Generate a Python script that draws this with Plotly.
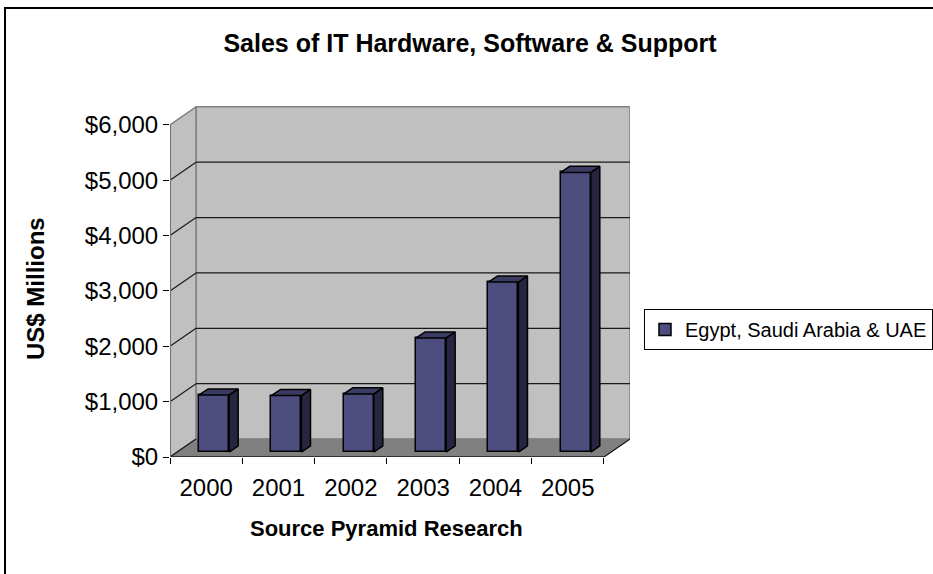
import plotly.graph_objects as go

# ---------------- data ----------------
YEARS = ["2000", "2001", "2002", "2003", "2004", "2005"]
SALES = [1030, 1020, 1050, 2060, 3070, 5050]          # US$ millions
SERIES_NAME = "Egypt, Saudi Arabia & UAE"
YTICK_VALUES = [0, 1000, 2000, 3000, 4000, 5000, 6000]
YTICK_LABELS = ["$0", "$1,000", "$2,000", "$3,000", "$4,000", "$5,000", "$6,000"]
TITLE = "Sales of IT Hardware, Software & Support"
Y_TITLE = "US$ Millions"
X_TITLE = "Source Pyramid Research"

# ---------------- pseudo-3D geometry (in axis units) ----------------
N = len(YEARS)
YMAX = YTICK_VALUES[-1]
DX, DY = 0.36, 325          # wall depth offset
BDX, BDY = 0.11, 90         # bar front-face offset from front plane
BW = 0.415                  # bar width
BDEPTH_X, BDEPTH_Y = 0.125, 110  # bar depth

FONT = "Arial, Liberation Sans, sans-serif"
WALL = "#C0C0C0"
FLOOR = "#808080"
EDGE = "#808080"
GRID = "#1a1a1a"
FRONT = "#4D4D80"
SIDE = "#262640"
TOP = "#3A3A62"

L, R, T, B = 170, 303, 106, 117
W, H = 933, 574
PW, PH = W - L - R, H - T - B

shapes = []
def poly(pts, fill, line, width=1, layer="below"):
    path = "M " + " L ".join(f"{x},{y}" for x, y in pts) + " Z"
    shapes.append(dict(type="path", path=path, xref="x", yref="y",
                       fillcolor=fill, line=dict(color=line, width=width), layer=layer))
def seg(x0, y0, x1, y1, color, width=1):
    shapes.append(dict(type="line", x0=x0, y0=y0, x1=x1, y1=y1, xref="x", yref="y",
                       line=dict(color=color, width=width), layer="below"))

# back wall
poly([(DX, DY), (N + DX, DY), (N + DX, YMAX + DY), (DX, YMAX + DY)], WALL, EDGE, 1.5)
# left side wall
poly([(0, 0), (DX, DY), (DX, YMAX + DY), (0, YMAX)], WALL, EDGE, 1.5)
# floor
poly([(0, 0), (N, 0), (N + DX, DY), (DX, DY)], FLOOR, FLOOR, 1)
# gridlines on back wall + side wall
for v in YTICK_VALUES[1:-1]:
    seg(DX, v + DY, N + DX, v + DY, GRID, 1.2)
    seg(0, v, DX, v + DY, GRID, 1.2)
# floor edges
seg(0, 0, DX, DY, GRID, 1.2)
seg(N, 0, N + DX, DY, GRID, 1.2)
seg(0, 0, N, 0, GRID, 1.5)
# front vertical axis line
seg(0, 0, 0, YMAX, "#707070", 2)

# ---------------- bar faces ----------------
centers = [i + 0.5 + BDX for i in range(N)]
side_x, side_y, top_x, top_y = [], [], [], []
for c, v in zip(centers, SALES):
    xr = c + BW / 2
    xl = c - BW / 2
    side_x += [xr, xr + BDEPTH_X, xr + BDEPTH_X, xr, xr, None]
    side_y += [BDY, BDY + BDEPTH_Y, BDY + v + BDEPTH_Y, BDY + v, BDY, None]
    top_x += [xl, xr, xr + BDEPTH_X, xl + BDEPTH_X, xl, None]
    top_y += [BDY + v, BDY + v, BDY + v + BDEPTH_Y, BDY + v + BDEPTH_Y, BDY + v, None]

fig = go.Figure()
fig.add_trace(go.Scatter(x=side_x, y=side_y, mode="lines", fill="toself", fillcolor=SIDE,
                         line=dict(color="black", width=1.5), showlegend=False, hoverinfo="skip"))
fig.add_trace(go.Scatter(x=top_x, y=top_y, mode="lines", fill="toself", fillcolor=TOP,
                         line=dict(color="black", width=1.5), showlegend=False, hoverinfo="skip"))
fig.add_trace(go.Bar(x=centers, y=SALES, base=BDY, width=BW, name=SERIES_NAME,
                     marker=dict(color=FRONT, line=dict(color="black", width=1.5)),
                     customdata=YEARS, hovertemplate="%{customdata}: $%{y:,}M<extra></extra>"))
# invisible trace for the secondary x axis (tick marks at category boundaries)
fig.add_trace(go.Scatter(x=[0, N], y=[0, 0], xaxis="x2", mode="markers",
                         marker=dict(opacity=0), showlegend=False, hoverinfo="skip"))

xr_range = [0, N + DX]
fig.update_layout(
    width=W, height=H,
    margin=dict(l=L, r=R, t=T, b=B, pad=0, autoexpand=False),
    paper_bgcolor="white", plot_bgcolor="white",
    font=dict(family=FONT, color="black"),
    bargap=0,
    title=dict(text=f"<b>{TITLE}</b>", font=dict(size=25, family=FONT),
               x=(470 - L) / PW, xref="paper", xanchor="center",
               y=1 - 43 / H, yref="container", yanchor="middle"),
    xaxis=dict(range=xr_range, tickvals=[i + 0.5 for i in range(N)], ticktext=YEARS,
               ticks="", showgrid=False, zeroline=False, showline=False,
               ticklabelstandoff=14,
               tickfont=dict(size=24), fixedrange=True),
    xaxis2=dict(range=xr_range, overlaying="x", side="bottom", anchor="y",
                tickvals=list(range(N + 1)), ticktext=[""] * (N + 1),
                ticks="outside", ticklen=6, tickcolor="black", tickwidth=1.2,
                showgrid=False, zeroline=False, showline=False, fixedrange=True),
    yaxis=dict(range=[0, YMAX + DY + 15], tickvals=YTICK_VALUES, ticktext=YTICK_LABELS,
               ticks="outside", ticklen=6, tickcolor="black", tickwidth=1.2,
               showgrid=False, zeroline=False, showline=False,
               tickfont=dict(size=24), fixedrange=True),
    showlegend=True,
    legend=dict(x=(644 - L) / PW, y=(457 - 309) / PH,
                xanchor="left", yanchor="top", bordercolor="black", borderwidth=1,
                font=dict(size=20), bgcolor="white", itemwidth=30),
    shapes=shapes,
    annotations=[
        dict(text=f"<b>{Y_TITLE}</b>", textangle=-90, xref="paper", yref="paper",
             x=(35 - L) / PW, y=(457 - 289) / PH,
             showarrow=False, font=dict(size=24), xanchor="center", yanchor="middle"),
        dict(text=f"<b>{X_TITLE}</b>", xref="paper", yref="paper",
             x=(386 - L) / PW, y=(457 - 528) / PH,
             showarrow=False, font=dict(size=22), xanchor="center", yanchor="middle"),
    ],
)
# outer chart border (extends past right/bottom edge as in the reference)
fig.add_shape(type="rect", xref="paper", yref="paper",
              x0=(5 - L) / PW, x1=(945 - L) / PW,
              y0=(457 - 590) / PH, y1=(457 - 8) / PH,
              line=dict(color="black", width=2), fillcolor="rgba(0,0,0,0)", layer="below")

fig.write_html("out.html")
